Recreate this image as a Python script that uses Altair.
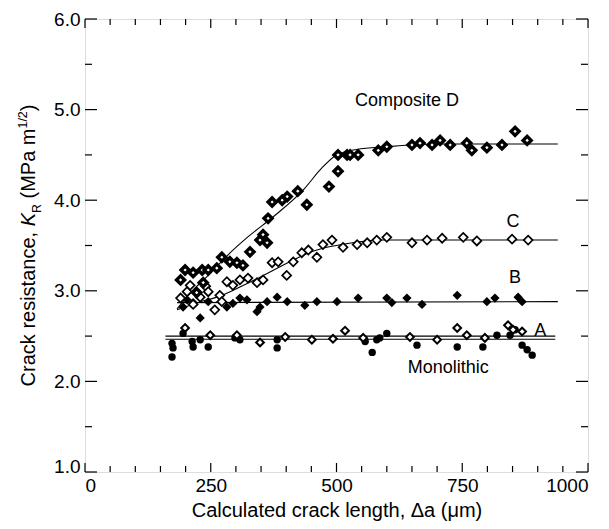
import altair as alt
import pandas as pd

# ---------------- data ----------------
d_x = [190, 199, 215, 222, 233, 235, 245, 262, 272, 288, 302, 314, 328, 348, 354, 362, 364, 372,
       392, 402, 423, 441, 485, 503, 503, 521, 527, 543, 583, 600, 650, 666, 690, 706, 726, 759,
       769, 799, 829, 855, 879]
d_y = [3.12, 3.23, 3.20, 2.98, 3.23, 3.09, 3.23, 3.25, 3.37, 3.32, 3.31, 3.28, 3.43, 3.56, 3.62,
       3.53, 3.80, 3.98, 4.00, 4.04, 4.10, 3.95, 4.15, 4.32, 4.50, 4.50, 4.50, 4.50, 4.55, 4.59,
       4.61, 4.63, 4.61, 4.66, 4.61, 4.63, 4.55, 4.58, 4.61, 4.76, 4.66]

c_x = [190, 203, 209, 215, 229, 240, 245, 258, 268, 272, 282, 294, 308, 324, 342, 354, 372, 384,
       401, 414, 431, 444, 461, 473, 491, 513, 541, 561, 580, 600, 650, 680, 710, 752, 779, 849, 881]
c_y = [2.92, 2.99, 3.06, 2.85, 2.93, 3.05, 2.99, 2.79, 2.95, 2.88, 3.10, 3.06, 3.12, 3.14, 3.09,
       3.12, 3.31, 3.32, 3.17, 3.32, 3.42, 3.45, 3.37, 3.51, 3.56, 3.48, 3.51, 3.53, 3.56, 3.59,
       3.53, 3.56, 3.58, 3.59, 3.55, 3.57, 3.56]

b_x = [195, 203, 215, 229, 245, 282, 294, 308, 322, 342, 348, 362, 382, 402, 437, 461, 501, 543,
       600, 610, 640, 670, 740, 799, 815, 861, 869]
b_y = [2.82, 2.90, 2.87, 2.70, 2.88, 2.82, 2.86, 2.92, 2.90, 2.77, 2.82, 2.88, 2.93, 2.88, 2.84,
       2.88, 2.88, 2.92, 2.92, 2.87, 2.92, 2.85, 2.95, 2.88, 2.92, 2.93, 2.88]

a_x = [199, 249, 302, 348, 398, 451, 493, 517, 553, 646, 700, 740, 759, 795, 841, 851, 869]
a_y = [2.59, 2.51, 2.51, 2.43, 2.49, 2.46, 2.47, 2.56, 2.48, 2.49, 2.46, 2.59, 2.51, 2.48, 2.62,
       2.57, 2.55]

m_x = [173, 175, 173, 195, 213, 215, 229, 245, 298, 308, 382, 382, 557, 571, 580, 586, 600, 660,
       740, 791, 819, 845, 855, 869, 879, 889]
m_y = [2.42, 2.37, 2.27, 2.53, 2.44, 2.38, 2.46, 2.38, 2.48, 2.46, 2.46, 2.37, 2.44, 2.32, 2.46,
       2.48, 2.53, 2.40, 2.38, 2.38, 2.51, 2.51, 2.57, 2.40, 2.35, 2.29]

# fitted curves
curve_d_x = [183, 210, 245, 285, 325, 375, 435, 470, 500, 540, 600, 700, 940]
curve_d_y = [2.80, 2.98, 3.17, 3.40, 3.60, 3.82, 4.12, 4.35, 4.50, 4.56, 4.59, 4.62, 4.62]
curve_c_x = [183, 230, 262, 300, 348, 414, 445, 473, 510, 560, 593, 700, 940]
curve_c_y = [2.79, 2.88, 2.93, 3.02, 3.15, 3.34, 3.42, 3.47, 3.51, 3.55, 3.56, 3.56, 3.56]
curve_b_x = [183, 940]
curve_b_y = [2.87, 2.88]
curve_a_x = [160, 935]
curve_a_y = [2.50, 2.50]
curve_m_x = [160, 935]
curve_m_y = [2.465, 2.465]

label_text = ["Composite D", "C", "B", "A", "Monolithic"]
label_x = [640, 851, 855, 905, 722]
label_y = [5.10, 3.76, 3.14, 2.56, 2.15]

x_major = [0, 250, 500, 750, 1000]
x_minor = [50, 100, 150, 200, 300, 350, 400, 450, 550, 600, 650, 700, 800, 850, 900, 950]
y_major = [1, 2, 3, 4, 5, 6]
y_minor = [1.5, 2.5, 3.5, 4.5, 5.5]

x_title = "Calculated crack length, \u0394a (\u03bcm)"
y_title_parts = ["Crack resistance, ", "K", "R", " (MPa m", "1/2", ")"]

# ---------------- layout ----------------
W, H = 503, 453
FONT = "Liberation Sans"
LABEL_SIZE = 19
TITLE_SIZE = 20
ANN_SIZE = 18

xs = alt.Scale(domain=[0, 1000], nice=False, zero=False)
ys = alt.Scale(domain=[1, 6], nice=False, zero=False)

xaxis = alt.Axis(values=x_major, format="d", ticks=False, domain=False, grid=False, labelFlush=True,
                 labelFontSize=LABEL_SIZE, labelFont=FONT, labelColor="black", labelPadding=4,
                 title=x_title, titleFont=FONT, titleFontSize=TITLE_SIZE, titleFontWeight="normal",
                 titleColor="black", titlePadding=5)
yaxis = alt.Axis(values=y_major, format=".1f", ticks=False, domain=False, grid=False,
                 labelFontSize=LABEL_SIZE, labelFont=FONT, labelColor="black", labelPadding=5,
                 labelOffset=alt.condition("datum.value == 1", alt.value(-6), alt.value(0)),
                 title=None)

X = alt.X("x:Q", scale=xs, axis=xaxis)
Y = alt.Y("y:Q", scale=ys, axis=yaxis)


def df(xv, yv):
    return pd.DataFrame({"x": xv, "y": yv})


layers = []

# curves
for cx, cy in [(curve_d_x, curve_d_y), (curve_c_x, curve_c_y), (curve_b_x, curve_b_y),
               (curve_a_x, curve_a_y), (curve_m_x, curve_m_y)]:
    layers.append(alt.Chart(df(cx, cy)).mark_line(color="black", strokeWidth=1.1,
                                                  interpolate="monotone").encode(x=X, y=Y))

# points
layers.append(alt.Chart(df(m_x, m_y)).mark_point(shape="circle", filled=True, color="black",
                                                 size=55, opacity=1).encode(x=X, y=Y))
layers.append(alt.Chart(df(a_x, a_y)).mark_point(shape="diamond", fill="white", stroke="black",
                                                 strokeWidth=2, size=60, opacity=1,
                                                 fillOpacity=1).encode(x=X, y=Y))
layers.append(alt.Chart(df(b_x, b_y)).mark_point(shape="diamond", filled=True, color="black",
                                                 size=85, opacity=1).encode(x=X, y=Y))
layers.append(alt.Chart(df(c_x, c_y)).mark_point(shape="diamond", fill="white", stroke="black",
                                                 strokeWidth=1.7, size=80, opacity=1,
                                                 fillOpacity=1).encode(x=X, y=Y))
layers.append(alt.Chart(df(d_x, d_y)).mark_point(shape="diamond", fill="white", stroke="black",
                                                 strokeWidth=3.4, size=65, opacity=1,
                                                 fillOpacity=1).encode(x=X, y=Y))

# labels
lab = pd.DataFrame({"x": label_x, "y": label_y, "t": label_text})
layers.append(alt.Chart(lab).mark_text(font=FONT, fontSize=ANN_SIZE, color="black", align="center",
                                       baseline="middle").encode(x=X, y=Y, text="t:N"))

# inward ticks (frame on all four sides)
for vals, ln in [(x_major, 9), (x_minor, 6)]:
    t = pd.DataFrame({"x": vals})
    layers.append(alt.Chart(t).mark_rule(color="black", strokeWidth=1.2).encode(
        x=X, y=alt.value(H), y2=alt.value(H - ln)))
    layers.append(alt.Chart(t).mark_rule(color="black", strokeWidth=1.2).encode(
        x=X, y=alt.value(0), y2=alt.value(ln)))
for vals, ln in [(y_major, 12), (y_minor, 7)]:
    t = pd.DataFrame({"y": vals})
    layers.append(alt.Chart(t).mark_rule(color="black", strokeWidth=1.2).encode(
        y=Y, x=alt.value(0), x2=alt.value(ln)))
    layers.append(alt.Chart(t).mark_rule(color="black", strokeWidth=1.2).encode(
        y=Y, x=alt.value(W), x2=alt.value(W - ln)))

# rotated rich-text y-axis title (pieces laid out along the rotated baseline)
ARIAL = {' ': 278, ',': 278, '(': 333, ')': 333, '/': 278, '1': 556, '2': 556, 'C': 722,
         'K': 667, 'M': 833, 'P': 667, 'R': 722, 'a': 556, 'c': 500, 'e': 556, 'i': 222,
         'k': 500, 'm': 833, 'n': 556, 'r': 333, 's': 500, 't': 278}
F = TITLE_SIZE
styles = [(F, "normal", 0), (F, "italic", 0), (F * 0.62, "normal", F * 0.28),
          (F, "normal", 0), (F * 0.62, "normal", -F * 0.42), (F, "normal", 0)]


def text_w(s, fs):
    return sum(ARIAL.get(ch, 556) for ch in s) / 1000 * fs


total = sum(text_w(p, s[0]) for p, s in zip(y_title_parts, styles))
offset = -total / 2
for part, (fs, fst, ddy) in zip(y_title_parts, styles):
    lead = len(part) - len(part.lstrip(" "))
    offset += text_w(" " * lead, fs)
    shown = part.strip(" ")
    layers.append(alt.Chart(pd.DataFrame({"t": [shown]})).mark_text(
        angle=270, align="left", baseline="alphabetic", font=FONT, fontSize=fs, fontStyle=fst,
        color="black", dx=offset, dy=ddy).encode(text="t:N", x=alt.value(-50), y=alt.value(H / 2)))
    offset += text_w(part.lstrip(" "), fs)

chart = alt.layer(*layers).properties(
    width=W, height=H,
    autosize=alt.AutoSizeParams(type="none"),
    padding={"left": 77, "top": 11, "right": 13, "bottom": 56},
).configure_view(stroke="black", strokeWidth=1.5).configure(background="white")

chart.save("out.html", embed_options={"renderer": "svg", "actions": False})
